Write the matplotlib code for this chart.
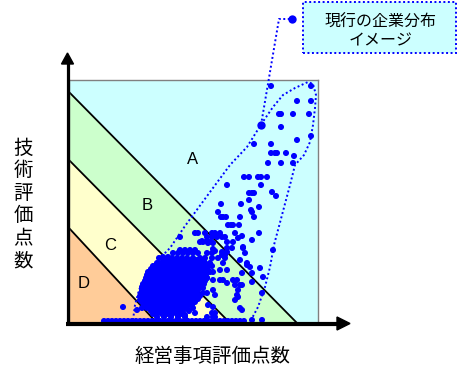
import matplotlib
matplotlib.use("Agg")
import matplotlib.pyplot as plt
from matplotlib.patches import Polygon, Rectangle

# ---------------- data (score units) ----------------
region_labels = ["A", "B", "C", "D"]
label_x = [124, 78, 41, 15]
label_y = [163, 117, 78, 40]
# boundary lines: intercept on y axis / x axis  (A|B, B|C, C|D)
bound_y0 = [231, 163, 95]
bound_x0 = [228, 161, 88]
region_colors = ["#CCFFFF", "#CCFFCC", "#FFFFCC", "#FFCC99"]

upper_x = [202, 242, 228, 242, 210, 212, 224, 240, 212, 242, 228, 185, 202, 202, 206, 208, 217, 225, 199, 212, 224]
upper_y = [237, 237, 222, 222, 209, 209, 209, 209, 196, 187, 183, 179, 179, 170, 170, 170, 170, 167, 160, 160, 160]

mid_x = [175, 180, 189, 192, 198, 158, 192, 180, 183, 185, 203, 207, 180, 152, 172, 190, 182, 183, 149, 152, 154, 157,
         171, 185, 159, 162, 164, 170, 190, 126, 129, 136, 143, 146, 151, 166, 138, 143, 148, 153, 156, 173, 169, 131,
         134, 141, 158, 164]
mid_y = [146, 146, 146, 146, 146, 138, 138, 130, 130, 130, 131, 127, 123, 119, 119, 116, 113, 111, 111, 106, 106, 106,
         106, 106, 98, 98, 98, 98, 90, 90, 90, 90, 90, 90, 90, 90, 86, 86, 86, 86, 86, 87, 85, 81, 81, 81, 81, 81]

fringe_x = [111, 133, 138, 111, 116, 121, 126, 104, 109, 114, 119, 124, 129, 138, 143, 146, 153, 158, 103, 108, 113,
            118, 124, 131, 136, 143, 149, 156, 94, 99, 90]
fringe_y = [86, 82, 82, 73, 73, 73, 73, 70, 70, 70, 70, 70, 70, 70, 70, 72, 71, 71, 65, 65, 65, 65, 65, 65, 65, 65,
            65, 65, 66, 66, 65]

right_x = [139, 144, 158, 163, 174, 144, 153, 156, 178, 181, 173, 154, 151, 158, 183, 164, 168, 151, 154, 166, 171,
           173, 169, 193, 168, 169, 166, 171, 173, 143, 146, 193, 139, 144, 134, 138, 144, 146, 138, 144, 139, 144,
           171, 178, 183, 158, 194, 204, 183, 174, 176, 191, 144, 183]
right_y = [80, 80, 75, 75, 75, 74, 68, 68, 60, 56, 50, 60, 53, 53, 41, 43, 43, 43, 43, 38, 38, 38, 33, 30, 28, 26,
           23, 15, 13, 10, 10, 3, 18, 16, 35, 30, 33, 28, 45, 43, 53, 51, 63, 58, 50, 40, 46, 73, 83, 76, 70, 55, 6, 3]

left_x = [54, 73, 76, 84, 89, 99, 74, 71, 68, 138, 146, 116, 126]
left_y = [16, 15, 33, 46, 51, 60, 33, 23, 13, 6, 6, 8, 10]

# dense core of the distribution, row by row (y: list of x)
cluster_rows = [
    (63, [95, 99, 103, 107, 111, 115, 119, 123, 127, 131, 135]),
    (60, [88, 92, 96, 100, 104, 108, 112, 116, 120, 124, 128, 132, 136, 141]),
    (57, [84, 87, 91, 95, 99, 103, 107, 111, 115, 119, 123, 127, 131, 135, 139, 143]),
    (54, [82, 86, 90, 94, 98, 102, 106, 110, 114, 118, 122, 126, 130, 134, 138]),
    (51, [79, 83, 87, 91, 95, 99, 103, 107, 111, 115, 119, 123, 127, 131, 136, 141]),
    (48, [78, 81, 85, 89, 93, 97, 101, 105, 109, 113, 117, 121, 125, 129, 133, 137]),
    (45, [77, 81, 85, 89, 93, 97, 101, 105, 109, 113, 117, 121, 125, 129, 133, 138]),
    (42, [76, 80, 84, 88, 92, 96, 100, 104, 108, 112, 116, 120, 124, 128, 132, 136]),
    (39, [74, 78, 82, 86, 90, 94, 98, 102, 106, 110, 114, 118, 122, 126, 130, 135]),
    (36, [73, 77, 81, 85, 89, 93, 97, 101, 105, 109, 113, 117, 121, 125, 129, 133]),
    (33, [73, 77, 81, 85, 89, 93, 97, 101, 105, 109, 113, 117, 121, 125, 129]),
    (30, [72, 76, 80, 84, 88, 92, 96, 100, 104, 108, 112, 116, 120, 124, 128, 134]),
    (27, [71, 75, 79, 83, 87, 91, 95, 99, 103, 107, 111, 115, 119, 123, 127, 131]),
    (24, [72, 76, 80, 84, 88, 92, 96, 100, 104, 108, 112, 116, 120, 124, 129]),
    (21, [73, 77, 81, 85, 89, 93, 97, 101, 105, 109, 113, 117, 121, 126]),
    (18, [75, 79, 83, 87, 91, 95, 99, 103, 107, 111, 115, 119, 123]),
    (15, [78, 82, 86, 90, 94, 98, 102, 106, 110, 114, 118, 124]),
    (12, [82, 86, 90, 94, 98, 102, 106, 110, 114, 120]),
    (9, [84, 88, 93, 98, 103, 108, 113]),
    (6, [88, 95, 102, 109, 116]),
]

bottom_x = [35, 39, 43, 47, 51, 55, 59, 63, 67, 71, 75, 79, 83, 87, 91, 95, 99, 103, 107, 111, 115, 119, 123, 127,
            131, 135, 139, 143, 147, 151, 155, 159, 163, 167, 171, 175]
bottom_y = [2] * len(bottom_x)

# the highlighted company used as callout anchor
anchor_x, anchor_y = 192, 198

# outline of the current distribution (annotation)
td_x = [64, 66, 70, 77, 89, 101, 116, 141, 161, 178, 193, 204, 214, 226, 239, 244, 247, 246, 244, 241, 235, 226, 221,
        213, 205, 201, 196, 189, 181]
td_y = [3, 18, 33, 48, 63, 75, 97, 131, 158, 176, 200, 216, 228, 235, 241, 239, 228, 215, 198, 181, 168, 158, 138,
        108, 78, 56, 36, 16, 1]

callout_text = "現行の企業分布\nイメージ"
xlabel = "経営事項評価点数"
ylabel = "技術評価点数"

# ---------------- figure ----------------
W, H = 457, 374
fig = plt.figure(figsize=(W / 100, H / 100), dpi=100)
fig.patch.set_facecolor("white")
ax = fig.add_axes([69 / W, 51 / H, 249 / W, 243 / H])
ax.set_xlim(0, 249)
ax.set_ylim(0, 243)
ax.set_facecolor(region_colors[0])
ax.set_xticks([])
ax.set_yticks([])
for s in ax.spines.values():
    s.set_color("#808080")
    s.set_linewidth(1.0)

# colored bands
for yi, xi, col in zip(bound_y0, bound_x0, region_colors[1:]):
    ax.add_patch(Polygon([(0, 0), (xi, 0), (0, yi)], closed=True, facecolor=col, edgecolor="none", zorder=1))
for yi, xi in zip(bound_y0, bound_x0):
    ax.plot([0, xi], [yi, 0], color="black", lw=1.3, zorder=2, solid_capstyle="butt")

for lab, lx, ly in zip(region_labels, label_x, label_y):
    ax.text(lx, ly, lab, ha="center", va="center", fontsize=12, family="Liberation Sans", zorder=3)

# points
all_x = upper_x + mid_x + fringe_x + right_x + left_x + bottom_x
all_y = upper_y + mid_y + fringe_y + right_y + left_y + bottom_y
for ry, rxs in cluster_rows:
    all_x += rxs
    all_y += [ry] * len(rxs)
ax.scatter(all_x, all_y, s=19, color="#0000FF", edgecolors="none", zorder=4, clip_on=False)
ax.plot([anchor_x], [anchor_y], "o", ms=6, color="#0000FF", mec="none", zorder=5)

# distribution outline
ax.plot(td_x, td_y, color="#0000FF", lw=1.4, ls=(0, (1, 1.3)), zorder=5, clip_on=False)

# callout
ax.plot([anchor_x, 210, 223], [anchor_y, 304, 304], color="#0000FF", lw=1.4, ls=(0, (1, 1.3)), zorder=5,
        clip_on=False)
ax.plot([223], [304], "o", ms=6, color="#0000FF", mec="none", zorder=6, clip_on=False)
ax.add_patch(Rectangle((234, 270), 153, 51, facecolor="#CCFFFF", edgecolor="#0000FF", lw=1.4,
                       ls=(0, (1, 1.3)), zorder=5, clip_on=False))
ax.text(312, 291.5, callout_text, ha="center", va="center", fontsize=11.5, linespacing=1.15,
        family=["Noto Sans CJK JP", "DejaVu Sans"], zorder=6, clip_on=False)

# axes arrows
ax.plot([-1.5, -1.5], [-2, 261], color="black", lw=2.3, zorder=7, clip_on=False, solid_capstyle="butt")
ax.add_patch(Polygon([(-7.5, 259), (4.5, 259), (-1.5, 270)], closed=True, color="black", zorder=7, clip_on=False))
ax.plot([-3, 270], [-0.5, -0.5], color="black", lw=3.0, zorder=7, clip_on=False, solid_capstyle="butt")
ax.add_patch(Polygon([(268, -7), (268, 6), (281, -0.5)], closed=True, color="black", zorder=7, clip_on=False))

# axis titles
jp = ["Noto Sans CJK JP", "DejaVu Sans"]
for i, ch in enumerate(ylabel):
    fig.text(23 / W, 1 - (148 + 22.6 * i) / H, ch, ha="center", va="center", fontsize=14, family=jp)
fig.text(213 / W, 1 - 357 / H, xlabel, ha="center", va="center", fontsize=14, family=jp)

fig.savefig("out.png", dpi=100)
